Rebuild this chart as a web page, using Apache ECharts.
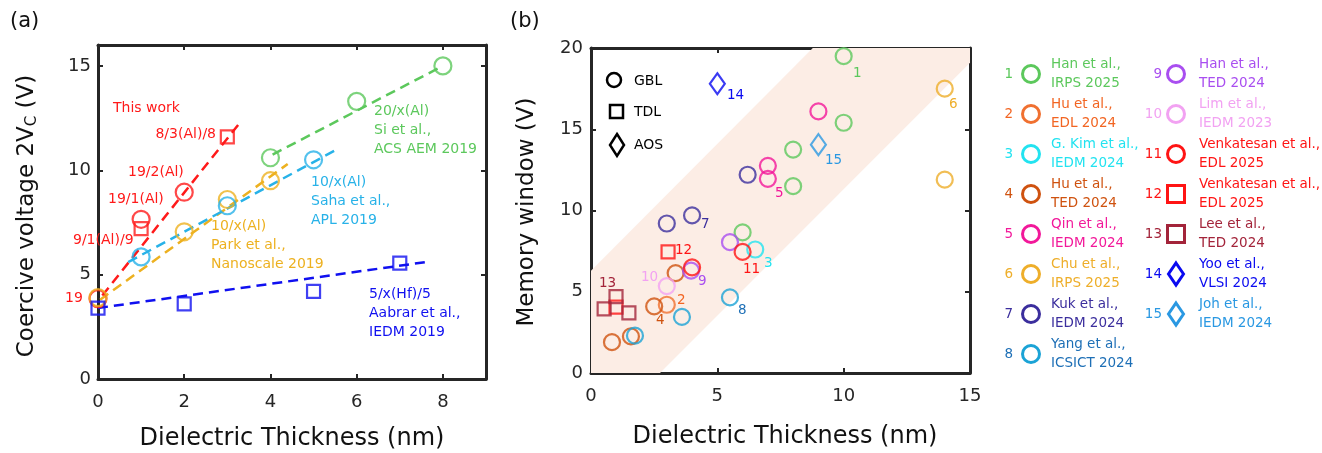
<!DOCTYPE html>
<html><head><meta charset="utf-8">
<script src="https://cdn.jsdelivr.net/npm/echarts@6/dist/echarts.min.js"></script>
<style>html,body{margin:0;padding:0;background:#fff}#c{width:1322px;height:453px}</style>
</head><body><div id="c"></div>
<script>
// ---------- Panel (a) data ----------
const xTicksA = [0, 2, 4, 6, 8];
const yTicksA = [0, 5, 10, 15];
const thisWorkCircles = [[0, 3.85], [1, 7.65], [2, 8.95]];
const thisWorkSquares = [[1, 7.2], [3, 11.6]];
const thisWorkFit = [[0.1, 4.0], [3.3, 12.3]];
const parkCircles = [[0, 3.9], [2, 7.05], [3, 8.6], [4, 9.5]];
const parkFit = [[0.05, 3.8], [4.4, 10.3]];
const sahaCircles = [[1, 5.85], [3, 8.3], [5, 10.5]];
const sahaFit = [[0.7, 5.6], [5.5, 10.95]];
const siCircles = [[4, 10.6], [6, 13.3], [8, 15.0]];
const siFit = [[4.05, 10.75], [8, 15.0]];
const aabrarSquares = [[0, 3.4], [2, 3.6], [5, 4.2], [7, 5.55]];
const aabrarFit = [[0, 3.4], [7.6, 5.6]];

// ---------- Panel (b) data ----------
const xTicksB = [0, 5, 10, 15];
const yTicksB = [0, 5, 10, 15, 20];
const bandPolygon = [[0, 0], [0, 6.3], [8.78, 20], [15, 20], [15, 19.1], [2.73, 0]];
const hanIRPS2025 = [[10, 19.5], [10, 15.4], [8, 13.75], [8, 11.5], [6, 8.65]];
const huEDL2024 = [[3.0, 4.2]];
const gkimIEDM2024 = [[6.5, 7.6]];
const huTED2024 = [[2.5, 4.1], [3.35, 6.15], [0.83, 1.9], [1.58, 2.25]];
const qinIEDM2024 = [[7, 12.75], [7, 11.95], [9, 16.1]];
const chuIRPS2025 = [[14, 17.5], [14, 11.9]];
const kukIEDM2024 = [[6.2, 12.2], [4.0, 9.7], [3.0, 9.2]];
const yangICSICT2024 = [[5.5, 4.65], [3.6, 3.45], [1.74, 2.3]];
const hanTED2024 = [[5.5, 8.05], [3.96, 6.3]];
const limIEDM2023 = [[3.0, 5.35]];
const venkatesanGBL = [[6.0, 7.45], [4.0, 6.5]];
const venkatesanTDL = [[3.05, 7.45], [0.99, 4.05]];
const leeTED2024 = [[0.52, 3.95], [0.99, 4.7], [1.5, 3.7]];
const yooVLSI2024 = [[5.0, 17.8]];
const johIEDM2024 = [[9.0, 14.05]];

const refData = [hanIRPS2025, huEDL2024, gkimIEDM2024, huTED2024, qinIEDM2024, chuIRPS2025, kukIEDM2024,
  yangICSICT2024, hanTED2024, limIEDM2023, venkatesanGBL, venkatesanTDL, leeTED2024, yooVLSI2024, johIEDM2024];
const refNames = [['Han et al.,', 'IRPS 2025'], ['Hu et al.,', 'EDL 2024'], ['G. Kim et al.,', 'IEDM 2024'],
  ['Hu et al.,', 'TED 2024'], ['Qin et al.,', 'IEDM 2024'], ['Chu et al.,', 'IRPS 2025'], ['Kuk et al.,', 'IEDM 2024'],
  ['Yang et al.,', 'ICSICT 2024'], ['Han et al.,', 'TED 2024'], ['Lim et al.,', 'IEDM 2023'],
  ['Venkatesan et al.,', 'EDL 2025'], ['Venkatesan et al.,', 'EDL 2025'], ['Lee et al.,', 'TED 2024'],
  ['Yoo et al.,', 'VLSI 2024'], ['Joh et al.,', 'IEDM 2024']];
const refShapes = ['circle', 'circle', 'circle', 'circle', 'circle', 'circle', 'circle', 'circle', 'circle', 'circle',
  'circle', 'rect', 'rect', 'diamond', 'diamond'];
const refColors = ['#5cc85c', '#f07030', '#22e3f0', '#cf520f', '#f2189a', '#eeae2a', '#3b2e9d', '#1ba3d6',
  '#a94ef0', '#f2a2f2', '#ff1414', '#ff1414', '#a3243a', '#0a0af0', '#2a98e2'];
const refTextColors = ['#5cc85c', '#f26522', '#22e3f0', '#cf520f', '#f2189a', '#eeae2a', '#3b2e9d', '#1d6fb6',
  '#a94ef0', '#f2a2f2', '#ff1414', '#ff1414', '#a3243a', '#0a0af0', '#2a98e2'];

const FONT = "'DejaVu Sans', sans-serif";
const AX = '#262626';

function axisCommon(show, ticks, extra) {
  return Object.assign({
    type: 'value', splitLine: { show: false },
    axisLine: { show: true, onZero: false, lineStyle: { color: AX, width: 3 } },
    axisTick: { show: true, inside: true, length: 5, lineStyle: { color: AX, width: 2 }, customValues: ticks },
    axisLabel: show ? { show: true, customValues: ticks, color: '#262626', fontSize: 18, fontFamily: FONT } : { show: false }
  }, extra);
}

const chart = echarts.init(document.getElementById('c'), null, { renderer: 'canvas' });

const series = [];
function sc(data, symbol, color, size, xi, yi, z) {
  series.push({
    type: 'scatter', data: data, symbol: symbol, symbolSize: size, xAxisIndex: xi, yAxisIndex: yi, z: z || 3,
    itemStyle: { color: 'rgba(0,0,0,0)', borderColor: color, borderWidth: 2.2 }, silent: true
  });
}
function fit(data, color) {
  series.push({
    type: 'line', data: data, xAxisIndex: 0, yAxisIndex: 0, symbol: 'none', silent: true, z: 2,
    lineStyle: { color: color, width: 2.5, type: [10, 6] }
  });
}
const RED = '#ff1a1a', GOLD = '#edb120', CYAN = '#28b2e8', GREEN = '#5cc85c', BLUE = '#1010f0';
fit(thisWorkFit, RED); fit(parkFit, GOLD); fit(sahaFit, CYAN); fit(siFit, GREEN); fit(aabrarFit, BLUE);
sc(thisWorkCircles, 'circle', RED, 17, 0, 0);
sc(thisWorkSquares, 'rect', RED, 13, 0, 0);
sc(parkCircles, 'circle', GOLD, 17, 0, 0);
sc(sahaCircles, 'circle', CYAN, 17, 0, 0);
sc(siCircles, 'circle', GREEN, 17, 0, 0);
sc(aabrarSquares, 'rect', BLUE, 13, 0, 0);

// band
series.push({
  type: 'custom', xAxisIndex: 2, yAxisIndex: 2, data: [0], silent: true, z: 1,
  renderItem: function (params, api) {
    return { type: 'polygon', shape: { points: bandPolygon.map(p => api.coord(p)) }, style: { fill: '#fcede5' } };
  }
});
refData.forEach((d, i) => {
  const s = refShapes[i];
  sc(d, s, refColors[i], s === 'circle' ? 16 : (s === 'rect' ? 13 : [15, 21]), 2, 2, 3);
});

const graphics = [];
function txt(x, y, text, color, size, align) {
  graphics.push({ type: 'text', x: x, y: y, silent: true, z: 10,
    style: { text: text, fill: color, font: (size || 14) + 'px ' + FONT, textAlign: align || 'left', align: align || 'left',
      textVerticalAlign: 'middle', verticalAlign: 'middle' } });
}
// panel labels
txt(10, 22, '(a)', '#111', 21);
txt(510, 22, '(b)', '#111', 21);
// axis titles
txt(292, 439, 'Dielectric Thickness (nm)', '#111', 24, 'center');
txt(785, 437, 'Dielectric Thickness (nm)', '#111', 24, 'center');
graphics.push({ type: 'text', x: 27, y: 216, rotation: Math.PI / 2, silent: true,
  style: { text: 'Coercive voltage 2V{s|C} (V)', fill: '#111', font: '23px ' + FONT, textAlign: 'center', align: 'center',
    textVerticalAlign: 'middle', verticalAlign: 'middle',
    rich: { s: { fontSize: 15, fontFamily: 'DejaVu Sans', fill: '#111', padding: [10, 0, 0, 0] } } } });
graphics.push({ type: 'text', x: 527, y: 212, rotation: Math.PI / 2, silent: true,
  style: { text: 'Memory window (V)', fill: '#111', font: '23px ' + FONT, textAlign: 'center', align: 'center',
    textVerticalAlign: 'middle', verticalAlign: 'middle' } });

// panel (a) annotations
txt(113, 108, 'This work', RED, 14);
txt(216, 134, '8/3(Al)/8', RED, 14, 'right');
txt(128, 172, '19/2(Al)', RED, 14);
txt(108, 199, '19/1(Al)', RED, 14);
txt(73, 240, '9/1(Al)/9', RED, 14);
txt(65, 298, '19', RED, 14);
[['20/x(Al)', 'Si et al.,', 'ACS AEM 2019', 374, 111, GREEN],
 ['10/x(Al)', 'Saha et al.,', 'APL 2019', 311, 182, CYAN],
 ['10/x(Al)', 'Park et al.,', 'Nanoscale 2019', 211, 226, GOLD],
 ['5/x(Hf)/5', 'Aabrar et al.,', 'IEDM 2019', 369, 294, BLUE]].forEach(a => {
  for (let k = 0; k < 3; k++) txt(a[3], a[4] + 19 * k, a[k], a[5], 14);
});

// panel (b) point numbers
[['14', 727, 95, 13], ['1', 853, 73, 0], ['6', 949, 104, 5], ['15', 825, 160, 14], ['5', 775, 193, 4],
 ['7', 701, 224, 6], ['12', 675, 250, 11], ['9', 698, 281, 8], ['10', 641, 277, 9], ['13', 599, 283, 12],
 ['2', 677, 300, 1], ['4', 656, 320, 3], ['11', 743, 269, 10], ['3', 764, 263, 2], ['8', 738, 310, 7]].forEach(a => {
  txt(a[1], a[2], a[0], refTextColors[a[3]], 13.5);
});

// shape key
graphics.push({ type: 'circle', shape: { cx: 614, cy: 80, r: 7 }, style: { fill: 'none', stroke: '#000', lineWidth: 2.5 } });
graphics.push({ type: 'rect', shape: { x: 610, y: 105, width: 13, height: 13 }, style: { fill: 'none', stroke: '#000', lineWidth: 2.5 } });
graphics.push({ type: 'polygon', shape: { points: [[617, 134], [624, 145], [617, 156], [610, 145]] }, style: { fill: 'none', stroke: '#000', lineWidth: 2.5 } });
txt(634, 81, 'GBL', '#000', 14);
txt(634, 112, 'TDL', '#000', 14);
txt(634, 145, 'AOS', '#000', 14);

// right legend
refNames.forEach((nm, i) => {
  const col = i < 8 ? 0 : 1;
  const row = col === 0 ? i : i - 8;
  const cy = 74 + 40 * row;
  const numX = col === 0 ? 1013 : 1162;
  const mx = col === 0 ? 1031 : 1176;
  const tx = col === 0 ? 1051 : 1199;
  txt(numX, cy, String(i + 1), refTextColors[i], 13.5, 'right');
  const c = refColors[i];
  if (refShapes[i] === 'circle') graphics.push({ type: 'circle', shape: { cx: mx, cy: cy, r: 8.5 }, style: { fill: 'none', stroke: c, lineWidth: 3 } });
  else if (refShapes[i] === 'rect') graphics.push({ type: 'rect', shape: { x: mx - 8.5, y: cy - 8.5, width: 17, height: 17 }, style: { fill: 'none', stroke: c, lineWidth: 3 } });
  else graphics.push({ type: 'polygon', shape: { points: [[mx, cy - 11], [mx + 7.5, cy], [mx, cy + 11], [mx - 7.5, cy]] }, style: { fill: 'none', stroke: c, lineWidth: 3 } });
  txt(tx, cy - 9.5, nm[0], refTextColors[i], 13.5);
  txt(tx, cy + 9.5, nm[1], refTextColors[i], 13.5);
});

chart.setOption({
  animation: false,
  backgroundColor: '#fff',
  grid: [
    { left: 98, top: 45, width: 388, height: 334 },
    { left: 591, top: 48, width: 379, height: 325 }
  ],
  xAxis: [
    axisCommon(true, xTicksA, { gridIndex: 0, min: 0, max: 9, position: 'bottom', axisLabel: { show: true, customValues: xTicksA, color: '#262626', fontSize: 18, fontFamily: FONT, margin: 14 } }),
    axisCommon(false, xTicksA, { gridIndex: 0, min: 0, max: 9, position: 'top' }),
    axisCommon(true, xTicksB, { gridIndex: 1, min: 0, max: 15, position: 'bottom', axisLabel: { show: true, customValues: xTicksB, color: '#262626', fontSize: 18, fontFamily: FONT, margin: 14 } }),
    axisCommon(false, xTicksB, { gridIndex: 1, min: 0, max: 15, position: 'top' })
  ],
  yAxis: [
    axisCommon(true, yTicksA, { gridIndex: 0, min: 0, max: 16, position: 'left', axisLabel: { show: true, customValues: yTicksA, color: '#262626', fontSize: 18, fontFamily: FONT, margin: 7 } }),
    axisCommon(false, yTicksA, { gridIndex: 0, min: 0, max: 16, position: 'right' }),
    axisCommon(true, yTicksB, { gridIndex: 1, min: 0, max: 20, position: 'left', axisLabel: { show: true, customValues: yTicksB, color: '#262626', fontSize: 18, fontFamily: FONT, margin: 8 } }),
    axisCommon(false, yTicksB, { gridIndex: 1, min: 0, max: 20, position: 'right' })
  ],
  series: series,
  graphic: { elements: graphics }
});
</script></body></html>
